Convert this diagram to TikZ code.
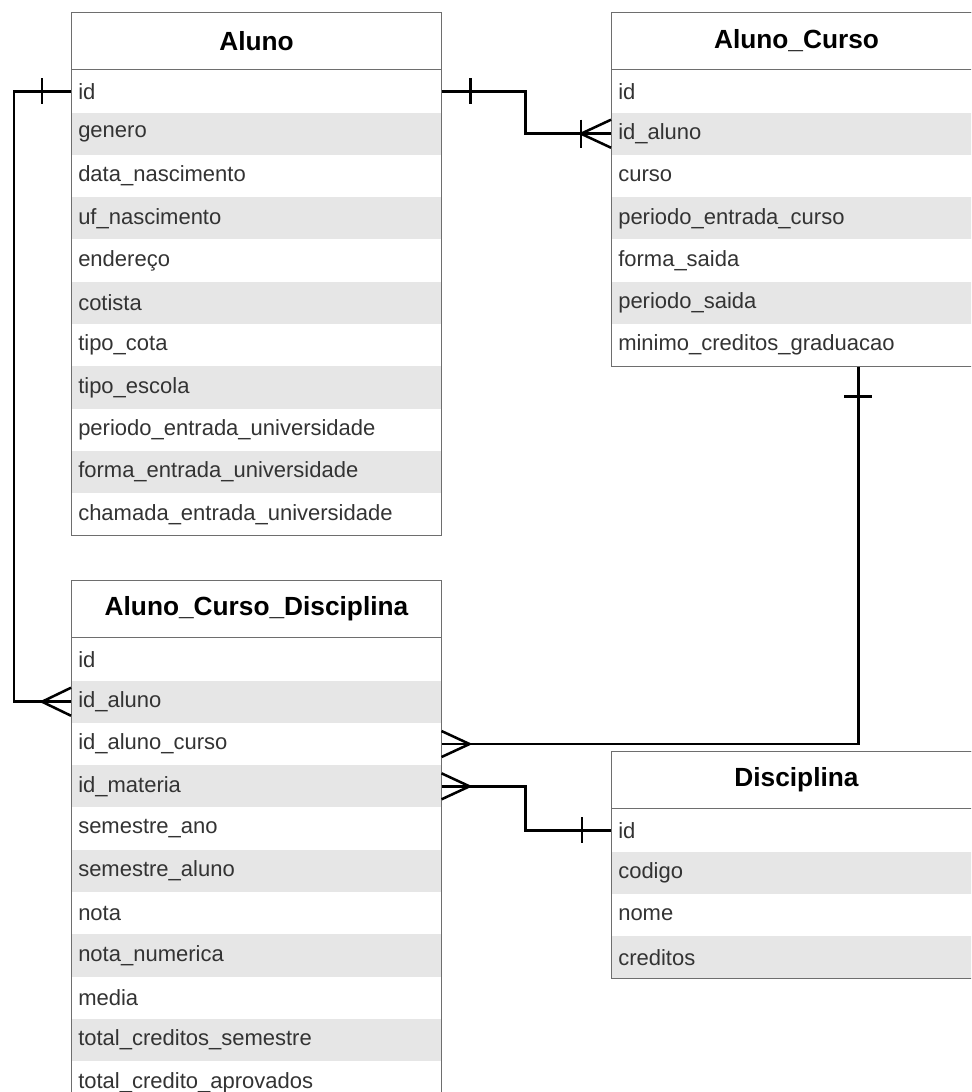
\documentclass[tikz,border=0pt]{standalone}
\usepackage{fontspec}
\setmainfont{Liberation Sans}
\usetikzlibrary{calc, positioning}
\definecolor{rahmen}{RGB}{110,110,110}
\definecolor{zeile}{RGB}{230,230,230}
\definecolor{schrift}{RGB}{51,51,51}

\tikzset{
  kopf/.style={draw=rahmen, line width=0.75pt, anchor=north west, minimum width=277.5pt, minimum height=42.75pt, inner sep=0pt, font=\fontsize{19.7}{22}\selectfont\bfseries},
  feld/.style={anchor=north west, text width=267pt, minimum height=31.725pt, inner xsep=5.25pt, inner ysep=0pt, align=left, text=schrift, font=\fontsize{16.5}{19}\selectfont},
  verb/.style={line width=1.9pt, black}
}

\begin{document}
\begin{tikzpicture}[x=0.75pt, y=-0.75pt] % 1 Einheit = 1 Pixel, y nach unten

    \useasboundingbox (0,0) rectangle (971,1092);
    \clip (0,0) rectangle (971,1092);

    % Tabelle Aluno
    \node[kopf] (aluno-h) at (71,12) {Aluno};
    \foreach \f [count=\i from 0] in {id, genero, data\_nascimento, uf\_nascimento, endereço, cotista, tipo\_cota, tipo\_escola, periodo\_entrada\_universidade, forma\_entrada\_universidade, chamada\_entrada\_universidade} {
        \ifodd\i\relax\def\farbe{zeile}\else\def\farbe{white}\fi
        \node[feld, fill=\farbe] (aluno-\i) at ($(aluno-h.south west)+(0,{42.3*\i})$) {\f};
    }
    \draw[rahmen, line width=0.75pt] (aluno-h.north west) rectangle (aluno-10.south east);

    % Tabelle Aluno_Curso
    \node[kopf] (curso-h) at (611,12) {Aluno\_Curso};
    \foreach \f [count=\i from 0] in {id, id\_aluno, curso, periodo\_entrada\_curso, forma\_saida, periodo\_saida, minimo\_creditos\_graduacao} {
        \ifodd\i\relax\def\farbe{zeile}\else\def\farbe{white}\fi
        \node[feld, fill=\farbe] (curso-\i) at ($(curso-h.south west)+(0,{42.3*\i})$) {\f};
    }
    \draw[rahmen, line width=0.75pt] (curso-h.north west) rectangle (curso-6.south east);

    % Tabelle Aluno_Curso_Disciplina
    \node[kopf] (acd-h) at (71,580) {Aluno\_Curso\_Disciplina};
    \foreach \f [count=\i from 0] in {id, id\_aluno, id\_aluno\_curso, id\_materia, semestre\_ano, semestre\_aluno, nota, nota\_numerica, media, total\_creditos\_semestre, total\_credito\_aprovados} {
        \ifodd\i\relax\def\farbe{zeile}\else\def\farbe{white}\fi
        \node[feld, fill=\farbe] (acd-\i) at ($(acd-h.south west)+(0,{42.3*\i})$) {\f};
    }
    \draw[rahmen, line width=0.75pt] (acd-h.north west) rectangle (acd-10.south east);

    % Tabelle Disciplina
    \node[kopf] (disc-h) at (611,751) {Disciplina};
    \foreach \f [count=\i from 0] in {id, codigo, nome, creditos} {
        \ifodd\i\relax\def\farbe{zeile}\else\def\farbe{white}\fi
        \node[feld, fill=\farbe] (disc-\i) at ($(disc-h.south west)+(0,{42.3*\i})$) {\f};
    }
    \draw[rahmen, line width=0.75pt] (disc-h.north west) rectangle (disc-3.south east);

    % Aluno -> Aluno_Curso_Disciplina
    \draw[verb] (aluno-0.west) -- ++(-57,0) |- (acd-1.west);
    \draw[verb] ($(aluno-0.west)+(-29,-13)$) -- ++(0,26);
    \draw[verb] ($(acd-1.west)+(0,-14)$) -- ++(-29,14) -- ++(29,14);

    % Aluno -> Aluno_Curso
    \draw[verb] (aluno-0.east) -- ++(84,0) |- (curso-1.west);
    \draw[verb] ($(aluno-0.east)+(29,-13)$) -- ++(0,26);
    \draw[verb] ($(curso-1.west)+(-30,-14)$) -- ++(0,28);
    \draw[verb] ($(curso-1.west)+(0,-14)$) -- ++(-30,14) -- ++(30,14);

    % Aluno_Curso -> Aluno_Curso_Disciplina
    \coordinate (curso-aus) at ($(curso-6.south)+(62,0)$);
    \draw[verb] (curso-aus) |- (acd-2.east);
    \draw[verb] ($(curso-aus)+(-14,30)$) -- ++(28,0);
    \draw[verb] ($(acd-2.east)+(0,-13)$) -- ++(28,13) -- ++(-28,13);

    % Disciplina -> Aluno_Curso_Disciplina
    \draw[verb] (acd-3.east) -- ++(84,0) |- (disc-0.west);
    \draw[verb] ($(disc-0.west)+(-29,-13)$) -- ++(0,26);
    \draw[verb] ($(acd-3.east)+(0,-13)$) -- ++(28,13) -- ++(-28,13);

\end{tikzpicture}
\end{document}
